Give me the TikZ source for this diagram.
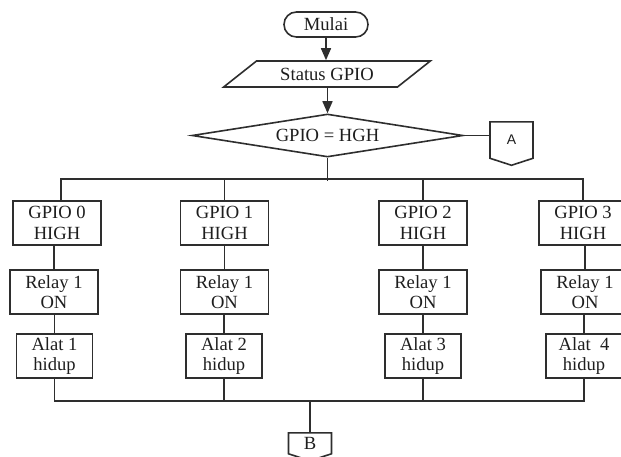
\documentclass[tikz,border=0pt]{standalone}
\usepackage{fontspec}
\setmainfont{Liberation Serif}
\setsansfont{Liberation Sans}
\usetikzlibrary{arrows.meta,positioning,shapes.geometric,shapes.symbols}
\definecolor{ink}{HTML}{2E2E2E}
\definecolor{txt}{HTML}{1E1E1E}
\tikzset{
  base/.style={draw=ink,line width=0.8pt,text=txt,font=\fontsize{9.3}{10.2}\selectfont,
    align=center,inner sep=1pt},
  term/.style={base,rounded corners=6.2pt,minimum width=42pt,minimum height=12.5pt},
  io/.style={base,trapezium,trapezium left angle=36,trapezium right angle=144,
    trapezium stretches=true,minimum width=104pt,minimum height=13pt},
  decision/.style={base,diamond,aspect=6.3,minimum width=135.5pt,minimum height=21.5pt,inner sep=0pt},
  gbox/.style={base,minimum width=44pt,minimum height=22pt},
  abox/.style={base,minimum width=38pt,minimum height=22pt},
  offpage/.style={base,signal,signal to=south,signal pointer angle=144,
    minimum width=21.5pt,minimum height=19pt,inner sep=0pt},
  wire/.style={draw=ink,line width=0.8pt},
  arr/.style={wire,-{Triangle[length=6pt,width=5pt]}},
}
\begin{document}
\begin{tikzpicture}[x=0.5pt,y=-0.5pt]
  \useasboundingbox (0,0) rectangle (621,456);
  \node[term] (mulai) at (326,24.5) {Mulai};
  \node[io] (status) at (327,74) {Status GPIO};
  \node[decision] (cek) at (327.5,135.5) {GPIO = HGH};
  \node[offpage,anchor=north,font=\sffamily\fontsize{7}{8}\selectfont] (conA) at (511.5,121) {A};
  \draw[arr] (mulai.south) -- (status.north -| mulai.south);
  \draw[arr] (status.south -| cek.north) -- (cek.north);
  \draw[wire] (cek.east) -- (conA.west |- cek.east);
  % cabang GPIO
  \node[gbox] (g0) at (57,223) {GPIO 0\\HIGH};
  \node[gbox] (g1) at (224.5,223) {GPIO 1\\HIGH};
  \node[gbox] (g2) at (423,223) {GPIO 2\\HIGH};
  \node[gbox] (g3) at (583,223) {GPIO 3\\HIGH};
  \node[gbox] (r0) at (54,292) {Relay 1\\ON};
  \node[gbox] (r1) at (224.5,292) {Relay 1\\ON};
  \node[gbox] (r2) at (423,292) {Relay 1\\ON};
  \node[gbox] (r3) at (585,292) {Relay 1\\ON};
  \node[abox] (a0) at (54.5,356) {Alat 1\\hidup};
  \node[abox] (a1) at (224,356) {Alat 2\\hidup};
  \node[abox] (a2) at (423,356) {Alat 3\\hidup};
  \node[abox] (a3) at (584,356) {Alat\ \ 4\\hidup};
  \draw[wire] (cek.south) -- ++(0,23);
  \draw[wire] ([xshift=2pt]g0.north) -- ++(0,-21) -| (g3.north);
  \foreach \n in {g1,g2} \draw[wire] (\n.north) -- ++(0,-21);
  \foreach \i in {0,...,3} {
    \draw[wire] (r\i.north) -- (r\i.north |- g\i.south);
    \draw[wire] (a\i.north) -- (a\i.north |- r\i.south);
  }
  % ke konektor B
  \draw[wire] (a0.south) -- ++(0,22) -| (a3.south);
  \foreach \n in {a1,a2} \draw[wire] (\n.south) -- ++(0,22);
  \node[offpage,anchor=north,minimum height=11.5pt,text height=6.4pt,text depth=0pt] (conB) at (310,432) {B};
  \draw[wire] (conB.north) -- ++(0,-32);
\end{tikzpicture}
\end{document}
